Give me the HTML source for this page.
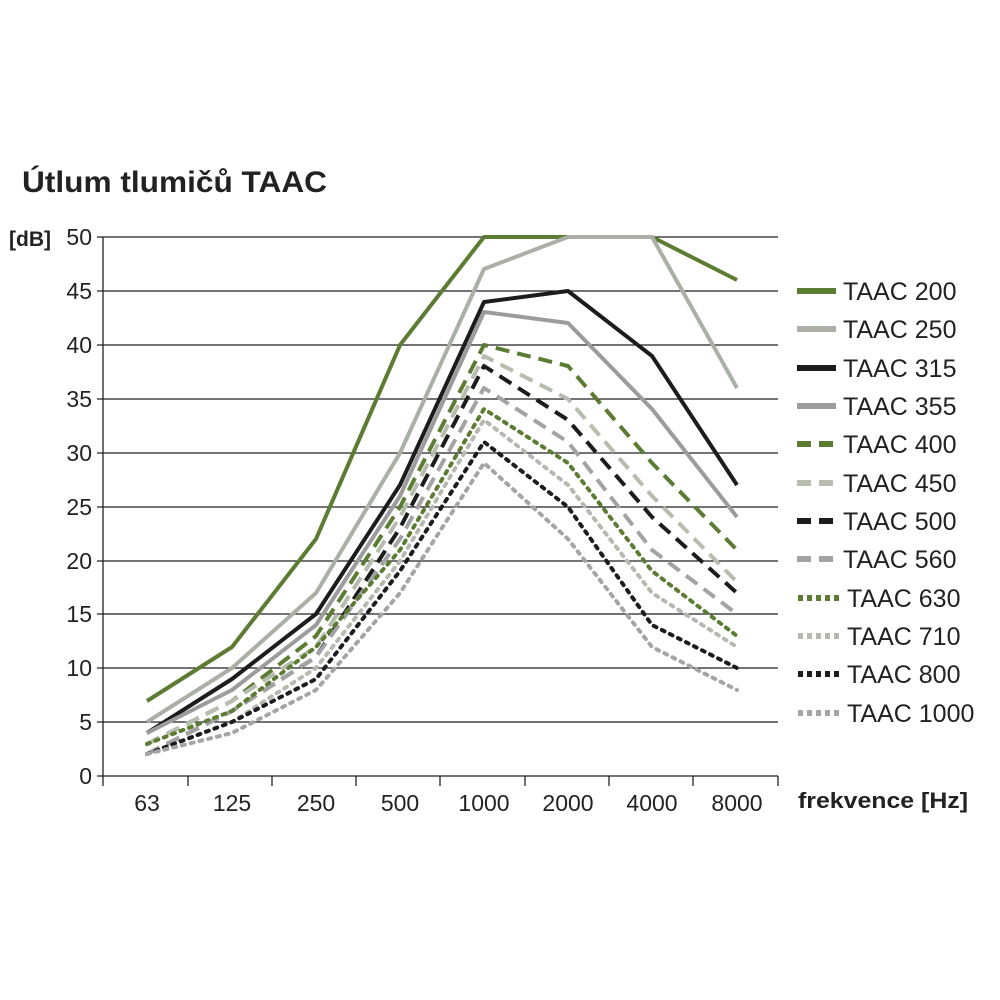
<!DOCTYPE html>
<html><head><meta charset="utf-8"><style>
html,body{margin:0;padding:0;background:#fff;}
svg{display:block;font-family:"Liberation Sans",sans-serif;}
</style></head><body>
<svg width="1000" height="1000" viewBox="0 0 1000 1000">
<rect width="1000" height="1000" fill="#fff"/>
<text x="22" y="192" font-size="30" font-weight="bold" fill="#222" textLength="305" lengthAdjust="spacingAndGlyphs">Útlum tlumičů TAAC</text>
<text x="9" y="246" font-size="21" font-weight="bold" fill="#222">[dB]</text>
<g stroke="#222" stroke-width="1.3">
<line x1="97" y1="237" x2="778" y2="237"/>
<line x1="97" y1="291" x2="778" y2="291"/>
<line x1="97" y1="345" x2="778" y2="345"/>
<line x1="97" y1="399" x2="778" y2="399"/>
<line x1="97" y1="453" x2="778" y2="453"/>
<line x1="97" y1="507" x2="778" y2="507"/>
<line x1="97" y1="561" x2="778" y2="561"/>
<line x1="97" y1="614" x2="778" y2="614"/>
<line x1="97" y1="668" x2="778" y2="668"/>
<line x1="97" y1="722" x2="778" y2="722"/>
<line x1="97" y1="776" x2="778" y2="776"/>
<line x1="103" y1="237" x2="103" y2="786"/>
<line x1="188" y1="776" x2="188" y2="786"/>
<line x1="272" y1="776" x2="272" y2="786"/>
<line x1="356" y1="776" x2="356" y2="786"/>
<line x1="440" y1="776" x2="440" y2="786"/>
<line x1="525" y1="776" x2="525" y2="786"/>
<line x1="609" y1="776" x2="609" y2="786"/>
<line x1="693" y1="776" x2="693" y2="786"/>
<line x1="778" y1="776" x2="778" y2="786"/>
</g>
<g font-size="23" fill="#222" text-anchor="end">
<text x="92" y="245">50</text><text x="92" y="299">45</text><text x="92" y="353">40</text>
<text x="92" y="407">35</text><text x="92" y="461">30</text><text x="92" y="515">25</text>
<text x="92" y="569">20</text><text x="92" y="622">15</text><text x="92" y="676">10</text>
<text x="92" y="730">5</text><text x="92" y="784">0</text>
</g>
<g font-size="23" fill="#222" text-anchor="middle">
<text x="147" y="811">63</text><text x="232" y="811">125</text><text x="316" y="811">250</text>
<text x="400" y="811">500</text><text x="484" y="811">1000</text><text x="568" y="811">2000</text>
<text x="652" y="811">4000</text><text x="737" y="811">8000</text>
</g>
<text x="798" y="808" font-size="22" font-weight="bold" fill="#222" textLength="170" lengthAdjust="spacingAndGlyphs">frekvence [Hz]</text>
<g fill="none" stroke-linejoin="round">
<polyline stroke="#5c7b33" stroke-width="4" points="147,701 232,647 316,539 400,345 484,237 568,237 652,237 737,280"/>
<polyline stroke="#aab0a5" stroke-width="4" points="147,722 232,668 316,593 400,453 484,269 568,237 652,237 737,388"/>
<polyline stroke="#1c1c1c" stroke-width="4" points="147,733 232,679 316,614 400,485 484,302 568,291 652,356 737,485"/>
<polyline stroke="#9c9c9e" stroke-width="4" points="147,733 232,690 316,625 400,496 484,312 568,323 652,409 737,517"/>
<polyline stroke="#5c7b33" stroke-width="4" stroke-dasharray="14,8" points="147,744 232,701 316,636 400,507 484,345 568,366 652,463 737,550"/>
<polyline stroke="#b7bdae" stroke-width="4" stroke-dasharray="14,8" points="147,744 232,701 316,647 400,517 484,356 568,399 652,496 737,582"/>
<polyline stroke="#1c1c1c" stroke-width="4" stroke-dasharray="14,8" points="147,754 232,711 316,657 400,528 484,366 568,420 652,517 737,593"/>
<polyline stroke="#a3a3a5" stroke-width="4" stroke-dasharray="14,8" points="147,754 232,711 316,657 400,539 484,388 568,442 652,550 737,614"/>
<polyline stroke="#5c7b33" stroke-width="4" stroke-dasharray="3,6" stroke-linecap="round" points="147,744 232,711 316,647 400,550 484,409 568,463 652,571 737,636"/>
<polyline stroke="#b5b9b0" stroke-width="4" stroke-dasharray="3,6" stroke-linecap="round" points="147,754 232,722 316,668 400,561 484,420 568,485 652,593 737,647"/>
<polyline stroke="#1c1c1c" stroke-width="4" stroke-dasharray="3,6" stroke-linecap="round" points="147,754 232,722 316,679 400,571 484,442 568,507 652,625 737,668"/>
<polyline stroke="#a5a5a7" stroke-width="4" stroke-dasharray="3,6" stroke-linecap="round" points="147,754 232,733 316,690 400,593 484,463 568,539 652,647 737,690"/>
</g>
<g stroke-width="6" fill="none">
<line x1="797" y1="291" x2="836" y2="291" stroke="#5c7b33"/>
<line x1="797" y1="329" x2="836" y2="329" stroke="#aab0a5"/>
<line x1="797" y1="368" x2="836" y2="368" stroke="#1c1c1c"/>
<line x1="797" y1="406" x2="836" y2="406" stroke="#9c9c9e"/>
<line x1="797" y1="444" x2="836" y2="444" stroke="#5c7b33" stroke-dasharray="14,8"/>
<line x1="797" y1="483" x2="836" y2="483" stroke="#b7bdae" stroke-dasharray="14,8"/>
<line x1="797" y1="521" x2="836" y2="521" stroke="#1c1c1c" stroke-dasharray="14,8"/>
<line x1="797" y1="559" x2="836" y2="559" stroke="#a3a3a5" stroke-dasharray="14,8"/>
<line x1="798" y1="598" x2="840" y2="598" stroke="#5c7b33" stroke-dasharray="5,4"/>
<line x1="798" y1="636" x2="840" y2="636" stroke="#b5b9b0" stroke-dasharray="5,4"/>
<line x1="798" y1="674" x2="840" y2="674" stroke="#1c1c1c" stroke-dasharray="5,4"/>
<line x1="798" y1="713" x2="840" y2="713" stroke="#a5a5a7" stroke-dasharray="5,4"/>
</g>
<g font-size="25" fill="#222">
<text x="843" y="300">TAAC 200</text><text x="843" y="338">TAAC 250</text>
<text x="843" y="377">TAAC 315</text><text x="843" y="415">TAAC 355</text>
<text x="843" y="453">TAAC 400</text><text x="843" y="492">TAAC 450</text>
<text x="843" y="530">TAAC 500</text><text x="843" y="568">TAAC 560</text>
<text x="847" y="607">TAAC 630</text><text x="847" y="645">TAAC 710</text>
<text x="847" y="683">TAAC 800</text><text x="847" y="722">TAAC 1000</text>
</g>
</svg>
</body></html>
